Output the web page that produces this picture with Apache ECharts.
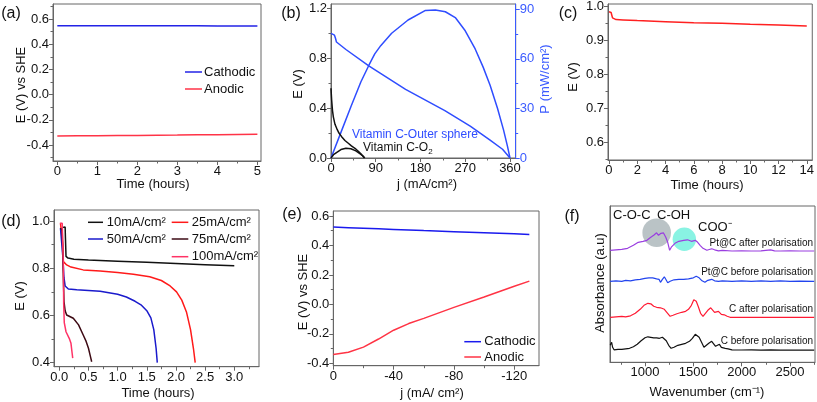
<!DOCTYPE html>
<html>
<head>
<meta charset="utf-8">
<script src="https://cdn.jsdelivr.net/npm/echarts@6/dist/echarts.min.js"></script>
<style>html,body{margin:0;padding:0;background:#fff}#c{width:817px;height:402px}</style>
</head>
<body>
<div id="c"></div>
<script>
// ---------------- DATA ----------------
// (a) E vs SHE over time
const aTime = [0, 0.5, 1, 1.5, 2, 2.5, 3, 3.5, 4, 4.5, 5];
const aCathodic = [0.547, 0.547, 0.547, 0.546, 0.546, 0.546, 0.546, 0.546, 0.545, 0.545, 0.545];
const aAnodic = [-0.328, -0.327, -0.326, -0.325, -0.324, -0.322, -0.321, -0.319, -0.318, -0.316, -0.315];
const aYTicks = [-0.4, -0.2, 0.0, 0.2, 0.4, 0.6];
const aYMinor = [-0.5, -0.3, -0.1, 0.1, 0.3, 0.5, 0.7];
const aXTicks = [0, 1, 2, 3, 4, 5];
const aXMinor = [0.5, 1.5, 2.5, 3.5, 4.5];

// (b) polarisation and power curves
const bOuterJ = [0, 4, 7, 9, 11, 14, 30, 76, 150, 229, 280, 320, 345, 360];
const bOuterE = [1.0, 0.995, 0.985, 0.96, 0.93, 0.915, 0.87, 0.738, 0.55, 0.38, 0.255, 0.144, 0.07, 0.0];
const bOuterPJ = [0, 20, 40, 60, 76, 88, 100, 122, 155, 190, 210, 230, 250, 270, 290, 306, 320, 335, 347, 355, 360];
const bOuterP = [0, 15.5, 31, 46, 56, 63, 68, 75.5, 83.5, 89.3, 89.6, 88.5, 85, 77, 66, 55, 44, 30, 17, 7, 0];
const bO2J = [0, 0.5, 1.3, 3, 4.7, 8, 11.4, 16, 21.4, 28, 34.8, 41, 48.2, 56, 62, 67];
const bO2E = [0.56, 0.52, 0.465, 0.38, 0.33, 0.27, 0.238, 0.2, 0.171, 0.14, 0.118, 0.097, 0.078, 0.05, 0.025, 0.0];
const bO2PJ = [0, 5, 11, 20, 30, 40, 50, 58, 64, 68];
const bO2P = [0, 2, 3.3, 5.1, 5.9, 5.6, 4.3, 2.6, 1.3, 0];
const bXTicks = [0, 90, 180, 270, 360];
const bXMinor = [45, 135, 225, 315];
const bYTicks = [0.0, 0.4, 0.8, 1.2];
const bYMinor = [0.2, 0.6, 1.0];
const bPTicks = [0, 30, 60, 90];
const bPMinor = [15, 45, 75];

// (c) long-term stability
const cTime = [0, 0.1, 0.15, 0.2, 0.25, 0.3, 0.5, 1, 2, 4, 6, 8, 10, 12, 14];
const cE = [0.985, 0.985, 0.983, 0.975, 0.967, 0.963, 0.962, 0.961, 0.959, 0.956, 0.953, 0.951, 0.948, 0.946, 0.943];
const cYTicks = [0.6, 0.7, 0.8, 0.9, 1.0];
const cYMinor = [0.55, 0.65, 0.75, 0.85, 0.95];
const cXTicks = [0, 2, 4, 6, 8, 10, 12, 14];
const cXMinor = [1, 3, 5, 7, 9, 11, 13];

// (d) discharge curves at different current densities
const d10T = [0.045, 0.1, 0.105, 0.115, 0.15, 0.25, 0.5, 1.0, 1.5, 2.0, 2.5, 3.0];
const d10E = [0.972, 0.975, 0.93, 0.85, 0.843, 0.838, 0.835, 0.83, 0.825, 0.82, 0.815, 0.81];
const d25T = [0.02, 0.05, 0.06, 0.07, 0.126, 0.2, 0.41, 0.7, 1.0, 1.27, 1.55, 1.75, 1.9, 2.01, 2.1, 2.18, 2.25, 2.3, 2.33];
const d25E = [0.99, 0.99, 0.9, 0.828, 0.814, 0.805, 0.793, 0.788, 0.782, 0.775, 0.764, 0.748, 0.725, 0.70, 0.665, 0.615, 0.54, 0.46, 0.40];
const d50T = [0.02, 0.05, 0.06, 0.08, 0.1, 0.155, 0.3, 0.7, 1.0, 1.15, 1.3, 1.4, 1.5, 1.57, 1.62, 1.66, 1.68];
const d50E = [0.97, 0.97, 0.85, 0.76, 0.725, 0.712, 0.709, 0.703, 0.69, 0.678, 0.66, 0.645, 0.62, 0.59, 0.54, 0.46, 0.40];
const d75T = [0.02, 0.05, 0.065, 0.08, 0.1, 0.126, 0.24, 0.33, 0.41, 0.46, 0.5, 0.53, 0.555];
const d75E = [0.97, 0.96, 0.8, 0.66, 0.62, 0.602, 0.588, 0.56, 0.517, 0.49, 0.461, 0.43, 0.404];
const d100T = [0.01, 0.05, 0.07, 0.075, 0.085, 0.115, 0.17, 0.2, 0.22, 0.23];
const d100E = [0.99, 0.99, 0.8, 0.65, 0.57, 0.531, 0.503, 0.482, 0.44, 0.419];
const dYTicks = [0.4, 0.6, 0.8, 1.0];
const dYMinor = [0.5, 0.7, 0.9];
const dXTicks = [0.0, 0.5, 1.0, 1.5, 2.0, 2.5, 3.0];
const dXMinor = [0.25, 0.75, 1.25, 1.75, 2.25, 2.75, 3.25];

// (e) electrode polarisation
const eJ = [0, -10, -20, -30, -40, -50, -60, -80, -100, -120, -130];
const eCathodic = [0.525, 0.521, 0.517, 0.513, 0.509, 0.505, 0.501, 0.494, 0.487, 0.479, 0.475];
const eAnodic = [-0.34, -0.325, -0.29, -0.235, -0.175, -0.13, -0.095, -0.02, 0.05, 0.123, 0.158];
const eYTicks = [-0.4, -0.2, 0.0, 0.2, 0.4, 0.6];
const eYMinor = [-0.3, -0.1, 0.1, 0.3, 0.5];
const eXTicks = [0, -40, -80, -120];
const eXMinor = [-20, -60, -100];

// (f) IR spectra (offset absorbance, arbitrary units)
const fPtAfterW = [640, 700, 760, 820, 880, 930, 980, 1020, 1060, 1090, 1120, 1140, 1165, 1190, 1215, 1235, 1255, 1275, 1310, 1350, 1400, 1440, 1480, 1520, 1545, 1570, 1600, 1640, 1690, 1720, 1760, 1800, 1900, 2000, 2100, 2200, 2300, 2340, 2400, 2500, 2600, 2750];
const fPtAfterA = [11.2, 11.25, 11.3, 11.4, 11.7, 12.0, 12.1, 12.2, 12.5, 12.7, 12.95, 12.7, 12.9, 12.95, 12.5, 12.0, 11.2, 11.55, 11.9, 12.1, 12.2, 12.25, 12.1, 12.2, 12.0, 11.7, 11.4, 11.2, 11.35, 11.25, 11.15, 11.2, 11.13, 11.15, 11.13, 11.15, 11.25, 11.15, 11.13, 11.15, 11.13, 11.13];
const fPtBeforeW = [640, 700, 760, 800, 850, 900, 950, 1000, 1040, 1080, 1120, 1145, 1160, 1180, 1200, 1215, 1235, 1260, 1300, 1350, 1400, 1450, 1500, 1530, 1560, 1590, 1620, 1650, 1690, 1720, 1760, 1800, 1900, 2000, 2100, 2200, 2300, 2400, 2500, 2600, 2750];
const fPtBeforeA = [8.1, 8.15, 8.1, 8.2, 8.15, 8.25, 8.3, 8.4, 8.45, 8.45, 8.35, 8.3, 8.0, 8.3, 8.55, 8.3, 7.95, 8.1, 8.25, 8.3, 8.3, 8.35, 8.45, 8.6, 8.45, 8.15, 8.0, 8.2, 8.3, 8.15, 8.1, 8.15, 8.1, 8.15, 8.1, 8.15, 8.1, 8.15, 8.1, 8.12, 8.1];
const fCAfterW = [640, 700, 760, 800, 850, 900, 950, 990, 1030, 1060, 1090, 1120, 1160, 1200, 1230, 1260, 1290, 1330, 1380, 1420, 1450, 1480, 1505, 1530, 1550, 1575, 1600, 1625, 1650, 1680, 1700, 1720, 1740, 1760, 1790, 1820, 1850, 1880, 1950, 2100, 2300, 2500, 2750];
const fCAfterA = [4.5, 4.55, 4.6, 4.55, 4.65, 4.9, 5.3, 5.7, 5.9, 5.85, 5.6, 5.5, 5.45, 5.3, 4.95, 4.6, 4.7, 4.85, 5.0, 5.1, 5.3, 5.7, 6.25, 6.1, 5.6, 4.9, 4.6, 4.9, 5.2, 5.45, 5.35, 5.0, 5.15, 5.1, 4.8, 4.75, 4.6, 4.5, 4.5, 4.5, 4.5, 4.5, 4.5];
const fCBeforeW = [640, 655, 665, 680, 720, 760, 800, 840, 880, 920, 960, 1000, 1030, 1060, 1090, 1120, 1150, 1180, 1200, 1220, 1245, 1270, 1300, 1340, 1380, 1420, 1460, 1490, 1520, 1540, 1560, 1585, 1610, 1630, 1660, 1690, 1710, 1730, 1750, 1770, 1790, 1810, 1830, 1860, 1900, 2000, 2100, 2200, 2300, 2400, 2500, 2600, 2700, 2750];
const fCBeforeA = [1.7, 2.0, 1.5, 1.25, 1.3, 1.3, 1.35, 1.4, 1.55, 1.8, 2.15, 2.45, 2.55, 2.5, 2.45, 2.45, 2.4, 2.5, 2.45, 2.15, 1.7, 1.4, 1.5, 1.7, 1.8, 1.9, 2.1, 2.4, 2.8, 2.85, 2.5, 2.0, 1.5, 1.6, 1.9, 2.1, 1.9, 1.6, 1.7, 1.8, 1.5, 1.6, 1.4, 1.35, 1.25, 1.23, 1.25, 1.22, 1.24, 1.22, 1.23, 1.22, 1.23, 1.22];
const fBandW = [1121, 1407];       // band highlight centres (wavenumber)
const fBandA = [12.96, 12.3];      // band highlight centres (absorbance units)
const fXTicks = [1000, 1500, 2000, 2500];
const fXMinor = [750, 1250, 1750, 2250, 2750];

// ---------------- BUILD ----------------
const FONT = '"Liberation Sans", Arial, Helvetica, sans-serif';
const AX = '#666';
const grids = [], xAxes = [], yAxes = [], series = [], graphic = [];

function fmt(d){ return v => (Math.abs(v) < 1e-9 ? 0 : v).toFixed(d); }

function addGrid(left, top, width, height){
  grids.push({left, top, width, height, show:true, borderColor:AX, borderWidth:1, backgroundColor:'transparent', containLabel:false});
  return grids.length - 1;
}
function addAxis(list, dim, gi, o){
  const main = {
    type:'value', gridIndex:gi, min:o.min, max:o.max, inverse:!!o.inverse,
    position:o.position || (dim==='x' ? 'bottom' : 'left'),
    axisLine:{show:true, onZero:false, lineStyle:{color:o.color||AX, width:1}},
    axisTick:{show:o.ticks!==false, length:4, customValues:o.ticks||[], lineStyle:{color:o.color||AX}},
    axisLabel:{show:!!o.ticks, customValues:o.ticks||[], color:o.labelColor||'#111', fontSize:13, fontFamily:FONT, margin:o.margin||4, formatter:o.formatter, hideOverlap:false},
    splitLine:{show:false}
  };
  list.push(main);
  const idx = list.length - 1;
  if (o.minor && o.minor.length){
    list.push({
      type:'value', gridIndex:gi, min:o.min, max:o.max, inverse:!!o.inverse,
      position:main.position,
      axisLine:{show:false, onZero:false},
      axisTick:{show:true, length:2.5, customValues:o.minor, lineStyle:{color:o.color||AX}},
      axisLabel:{show:false}, splitLine:{show:false}
    });
  }
  return idx;
}
function zip(xs, ys){ return xs.map((x,i)=>[x, ys[i]]); }
function addLine(xi, yi, xs, ys, color, width){
  series.push({type:'line', xAxisIndex:xi, yAxisIndex:yi, data:zip(xs, ys), showSymbol:false, symbol:'none',
    lineStyle:{color, width:width||1.5}, itemStyle:{color}, z:3, silent:true, animation:false});
}
function txt(x, y, text, o){
  o = o || {};
  const size = o.size || 13;
  graphic.push({type:'text', x, y, rotation:o.rot||0, z:10, silent:true,
    style:{text, fill:o.color||'#111', font:`${o.weight||'normal'} ${size}px ${FONT}`,
      align:o.align||'center', verticalAlign:o.valign||'middle',
      textAlign:o.align||'center', textVerticalAlign:o.valign||'middle', rich:o.rich}});
}
function seg(x1, x2, y, color){
  graphic.push({type:'line', z:10, silent:true, shape:{x1, y1:y, x2, y2:y}, style:{stroke:color, lineWidth:1.5}});
}
const ROT = Math.PI/2;

// ---- (a)
let g = addGrid(53, 4, 208, 157);
let xi = addAxis(xAxes, 'x', g, {min:-0.1075, max:5.09, ticks:aXTicks, minor:aXMinor, formatter:fmt(0)});
let yi = addAxis(yAxes, 'y', g, {min:-0.527, max:0.719, ticks:aYTicks, minor:aYMinor, formatter:fmt(1)});
addLine(xi, yi, aTime, aCathodic, '#2323e6');
addLine(xi, yi, aTime, aAnodic, '#ff3347');
txt(11, 14, '(a)', {size:16});
txt(21, 85, 'E (V) vs SHE', {rot:ROT});
txt(153, 184, 'Time (hours)');
seg(185, 202, 72, '#2323e6'); txt(204, 72, 'Cathodic', {align:'left'});
seg(185, 202, 89, '#ff3347'); txt(204, 89, 'Anodic', {align:'left'});

// ---- (b)
g = addGrid(331, 4, 184.7, 154);
xi = addAxis(xAxes, 'x', g, {min:0, max:371.5, ticks:bXTicks, minor:bXMinor, formatter:fmt(0)});
yi = addAxis(yAxes, 'y', g, {min:0, max:1.235, ticks:bYTicks, minor:bYMinor, formatter:fmt(1)});
let yr = addAxis(yAxes, 'y', g, {min:0, max:93.2, ticks:bPTicks, minor:bPMinor, position:'right', color:'#3b5bff', labelColor:'#3b5bff', formatter:fmt(0)});
addLine(xi, yi, bOuterJ, bOuterE, '#2f4dff');
addLine(xi, yr, bOuterPJ, bOuterP, '#2f4dff');
addLine(xi, yi, bO2J, bO2E, '#111');
addLine(xi, yr, bO2PJ, bO2P, '#111');
txt(291, 14, '(b)', {size:16});
txt(298, 84, 'E (V)', {rot:ROT});
txt(545, 79, 'P (mW/cm²)', {rot:ROT, color:'#3b5bff'});
txt(427, 184, 'j (mA/cm²)');
txt(352, 135, 'Vitamin C-Outer sphere', {align:'left', size:12, color:'#2f4dff'});
txt(363, 148, 'Vitamin C-O{s|2}', {align:'left', size:12, rich:{s:{fontSize:8, fill:'#111', fontFamily:FONT, padding:[7,0,0,0]}}});

// ---- (c)
g = addGrid(608, 4, 206, 156);
xi = addAxis(xAxes, 'x', g, {min:-0.07, max:14.39, ticks:cXTicks, minor:cXMinor, formatter:fmt(0)});
yi = addAxis(yAxes, 'y', g, {min:0.548, max:1.008, ticks:cYTicks, minor:cYMinor, formatter:fmt(1)});
addLine(xi, yi, cTime, cE, '#ff2020');
txt(568, 14, '(c)', {size:16});
txt(573, 77, 'E (V)', {rot:ROT});
txt(707, 185, 'Time (hours)');

// ---- (d)
g = addGrid(54, 210, 205, 156.7);
xi = addAxis(xAxes, 'x', g, {min:-0.091, max:3.424, ticks:dXTicks, minor:dXMinor, formatter:fmt(1)});
yi = addAxis(yAxes, 'y', g, {min:0.383, max:1.0466, ticks:dYTicks, minor:dYMinor, formatter:fmt(1)});
addLine(xi, yi, d10T, d10E, '#111');
addLine(xi, yi, d25T, d25E, '#ff1a1a');
addLine(xi, yi, d50T, d50E, '#1a1acc');
addLine(xi, yi, d75T, d75E, '#3d0a14');
addLine(xi, yi, d100T, d100E, '#ff3366');
txt(11, 222, '(d)', {size:16});
txt(20, 296, 'E (V)', {rot:ROT});
txt(158, 393, 'Time (hours)');
seg(88, 103, 222.3, '#111');    txt(106.7, 222.3, '10mA/cm²', {align:'left'});
seg(171.7, 188.3, 222.3, '#ff1a1a'); txt(191.7, 222.3, '25mA/cm²', {align:'left'});
seg(88, 103, 239, '#1a1acc');   txt(106.7, 239, '50mA/cm²', {align:'left'});
seg(171.7, 188.3, 239, '#3d0a14');   txt(191.7, 239, '75mA/cm²', {align:'left'});
seg(171.7, 188.3, 256.7, '#ff3366'); txt(191.7, 256.7, '100mA/cm²', {align:'left'});

// ---- (e)
g = addGrid(333.3, 211, 205.7, 154.7);
xi = addAxis(xAxes, 'x', g, {min:-136.4, max:0, inverse:true, ticks:eXTicks, minor:eXMinor, formatter:fmt(0)});
yi = addAxis(yAxes, 'y', g, {min:-0.416, max:0.634, ticks:eYTicks, minor:eYMinor, formatter:fmt(1)});
addLine(xi, yi, eJ, eCathodic, '#1a1aee');
addLine(xi, yi, eJ, eAnodic, '#ff3344');
txt(292, 215, '(e)', {size:16});
txt(303, 292, 'E (V) vs SHE', {rot:ROT});
txt(432, 393, 'j (mA/ cm²)');
seg(464.3, 481, 341.7, '#1a1aee'); txt(484.3, 341.7, 'Cathodic', {align:'left'});
seg(464.3, 481, 357, '#ff3344');   txt(484.3, 357, 'Anodic', {align:'left'});

// ---- (f)
g = addGrid(610, 206, 205, 156.3);
xi = addAxis(xAxes, 'x', g, {min:638, max:2758.6, ticks:fXTicks, minor:fXMinor, formatter:fmt(0)});
yi = addAxis(yAxes, 'y', g, {min:0, max:15.63, ticks:false});
series.push({type:'scatter', xAxisIndex:xi, yAxisIndex:yi, silent:true, z:1,
  data:[{value:[fBandW[0], fBandA[0]], symbolSize:28.6, itemStyle:{color:'#a9b4b8'}},
        {value:[fBandW[1], fBandA[1]], symbolSize:23.4, itemStyle:{color:'#6cf0dc'}}]});
addLine(xi, yi, fPtAfterW, fPtAfterA, '#9a3ee0', 1.2);
addLine(xi, yi, fPtBeforeW, fPtBeforeA, '#2244ee', 1.2);
addLine(xi, yi, fCAfterW, fCAfterA, '#ff1a33', 1.2);
addLine(xi, yi, fCBeforeW, fCBeforeA, '#111', 1.2);
txt(572, 217, '(f)', {size:16});
txt(600, 283, 'Absorbance (a.u)', {rot:ROT});
txt(707, 392, 'Wavenumber (cm⁻¹)');
txt(613, 215, 'C-O-C', {align:'left'});
txt(657, 215, 'C-OH', {align:'left'});
txt(698, 227, 'COO⁻', {align:'left'});
txt(813, 243.5, 'Pt@C after polarisation', {align:'right', size:10});
txt(813, 272.7, 'Pt@C before polarisation', {align:'right', size:10});
txt(813, 309.3, 'C after polarisation', {align:'right', size:10});
txt(813, 341.7, 'C before polarisation', {align:'right', size:10});

const chart = echarts.init(document.getElementById('c'), null, {renderer:'canvas'});
chart.setOption({animation:false, backgroundColor:'#fff', grid:grids, xAxis:xAxes, yAxis:yAxes, series, graphic});
</script>
</body>
</html>
